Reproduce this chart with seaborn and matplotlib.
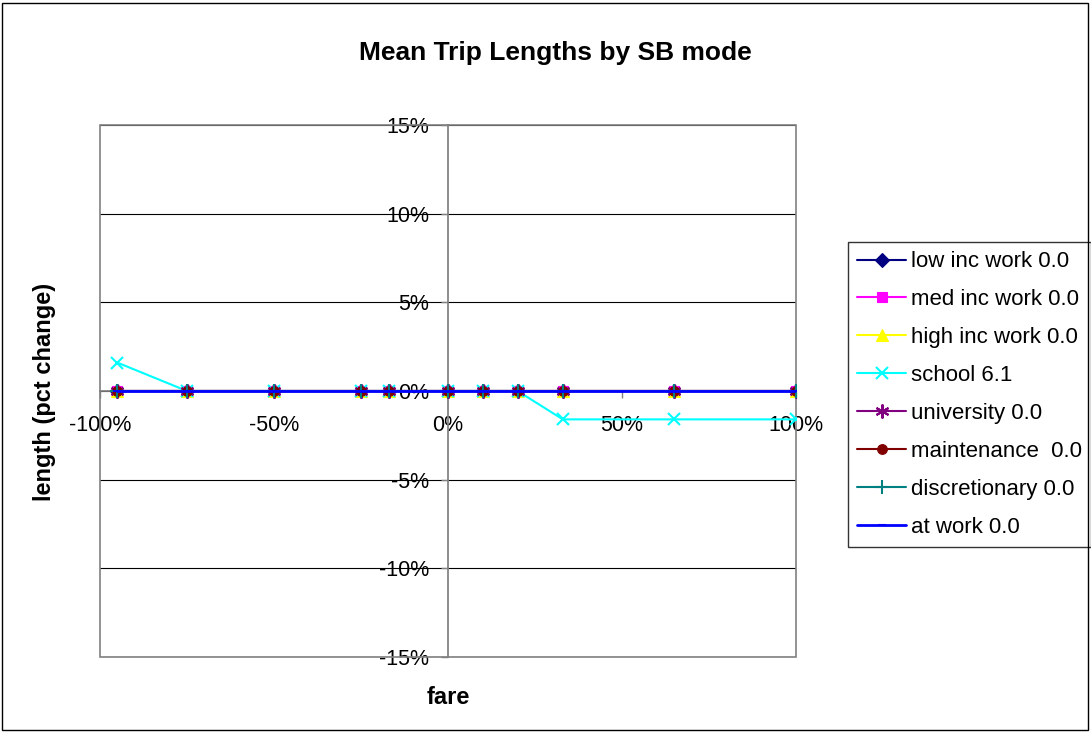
import numpy as np
import pandas as pd
import matplotlib
matplotlib.use("Agg")
import matplotlib.pyplot as plt
from matplotlib.patches import Rectangle
from matplotlib.ticker import PercentFormatter, MultipleLocator
import seaborn as sns

# Fare change (fraction) and the resulting change in mean trip length (fraction)
fare = [-0.95, -0.75, -0.50, -0.25, -0.17, 0.0, 0.10, 0.20, 0.33, 0.65, 1.00]

low_inc_work = [0, 0, 0, 0, 0, 0, 0, 0, 0, 0, 0]
med_inc_work = [0, 0, 0, 0, 0, 0, 0, 0, 0, 0, 0]
high_inc_work = [0, 0, 0, 0, 0, 0, 0, 0, 0, 0, 0]
school = [0.016, 0, 0, 0, 0, 0, 0, 0, -0.016, -0.016, -0.016]
university = [0, 0, 0, 0, 0, 0, 0, 0, 0, 0, 0]
maintenance = [0, 0, 0, 0, 0, 0, 0, 0, 0, 0, 0]
discretionary = [0, 0, 0, 0, 0, 0, 0, 0, 0, 0, 0]
at_work = [0, 0, 0, 0, 0, 0, 0, 0, 0, 0, 0]

series_labels = ["low inc work 0.0", "med inc work 0.0", "high inc work 0.0",
                 "school 6.1", "university 0.0", "maintenance  0.0",
                 "discretionary 0.0", "at work 0.0"]
series_values = [low_inc_work, med_inc_work, high_inc_work, school,
                 university, maintenance, discretionary, at_work]

colors = ["#000080", "#FF00FF", "#FFFF00", "#00FFFF", "#800080", "#800000",
          "#008080", "#0000FF"]
markers = ["D", "s", "^", "x", (6, 2, 0), "o", "+", "_"]
msizes = [7, 7, 8, 9, 10, 7, 10, 6]

sns.set_theme(style="white")
plt.rcParams["font.family"] = ["Liberation Sans", "DejaVu Sans"]
plt.rcParams["axes.unicode_minus"] = False
plt.rcParams["text.color"] = "black"
plt.rcParams["xtick.color"] = "black"
plt.rcParams["ytick.color"] = "black"

fig = plt.figure(figsize=(10.91, 7.32), dpi=100)
ax = fig.add_axes([100 / 1091, 1 - 657 / 732, 696 / 1091, 532 / 732])

for lab, vals, c, m, ms in zip(series_labels, series_values, colors, markers, msizes):
    df = pd.DataFrame({"fare": fare, "length": vals})
    sns.lineplot(data=df, x="fare", y="length", ax=ax, color=c, marker=m,
                 markersize=ms, markeredgecolor=c, markerfacecolor=c,
                 markeredgewidth=1.5 if m in ("x", "+", (6, 2, 0), "_") else 0.8,
                 linewidth=2.0 if lab.startswith("at work") else 1.5,
                 label=lab, legend=True, zorder=3)

ax.set_xlim(-1.0, 1.0)
ax.set_ylim(-0.15, 0.15)
ax.xaxis.set_major_locator(MultipleLocator(0.5))
ax.yaxis.set_major_locator(MultipleLocator(0.05))
ax.xaxis.set_major_formatter(PercentFormatter(1.0, decimals=0))
ax.yaxis.set_major_formatter(PercentFormatter(1.0, decimals=0))

# Horizontal gridlines only
ax.yaxis.grid(True, color="black", linewidth=0.8)
ax.xaxis.grid(False)
ax.set_axisbelow(True)

# Axes cross at zero, plot area boxed in grey
for side in ["top", "right"]:
    ax.spines[side].set_visible(False)
ax.spines["left"].set_position(("data", 0))
ax.spines["bottom"].set_position(("data", 0))
ax.spines["left"].set_color("#808080")
ax.spines["bottom"].set_color("#808080")
ax.add_patch(Rectangle((0, 0), 1, 1, transform=ax.transAxes, fill=False,
                       edgecolor="#808080", linewidth=1.2, zorder=1, clip_on=False))

ax.tick_params(axis="both", which="major", labelsize=15.5, direction="out",
               length=5, width=1, color="#808080", labelcolor="black",
               left=True, bottom=True)
ax.tick_params(axis="x", pad=12)
ax.tick_params(axis="y", pad=8.5)
for t in ax.get_yticklabels() + ax.get_xticklabels():
    t.set_zorder(5)

ax.set_xlabel("")
ax.set_ylabel("")
fig.text(448 / 1091, 1 - 697 / 732, "fare", ha="center", va="center",
         fontsize=17, fontweight="bold", color="black")
fig.text(45 / 1091, 1 - 392 / 732, "length (pct change)", ha="center", va="center",
         rotation=90, fontsize=17, fontweight="bold", color="black")
fig.text(555 / 1091, 1 - 53 / 732, "Mean Trip Lengths by SB mode", ha="center",
         va="center", fontsize=19, fontweight="bold", color="black")

leg = ax.legend(loc="upper left", bbox_to_anchor=(848 / 1091, 1 - 242 / 732),
                bbox_transform=fig.transFigure, frameon=True, fancybox=False,
                edgecolor="black", fontsize=16, handlelength=2.2,
                handletextpad=0.22, labelspacing=0.76, borderpad=0.42,
                borderaxespad=0)
leg.get_frame().set_linewidth(1.0)
for t in leg.get_texts():
    t.set_color("black")

# Outer chart border
fig.patches.append(Rectangle((2 / 1091, 2 / 732), 1086 / 1091, 727 / 732,
                             transform=fig.transFigure, fill=False,
                             edgecolor="black", linewidth=1.0))

fig.savefig("out.png", dpi=100)
